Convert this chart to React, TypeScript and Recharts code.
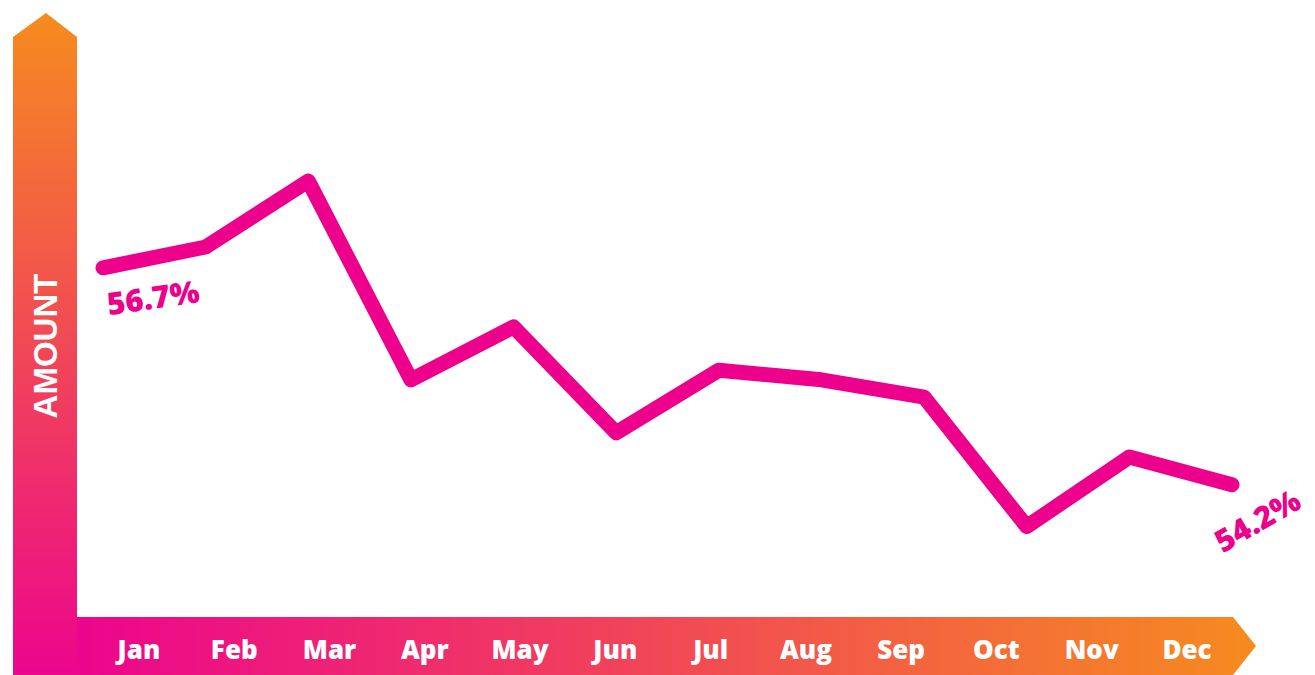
import React from "react";
import { LineChart, Line, XAxis, YAxis, LabelList } from "recharts";

const months = ["Jan", "Feb", "Mar", "Apr", "May", "Jun", "Jul", "Aug", "Sep", "Oct", "Nov", "Dec"];
const amounts = [56.7, 56.94, 57.7, 55.41, 56.02, 54.8, 55.52, 55.41, 55.21, 53.72, 54.52, 54.2];
const yDomain = [53, 58];

const data = months.map((m, i) => ({ month: m, amount: amounts[i] }));

const PINK = "#EC008C";
const ORANGE = "#F68B1F";

const MonthTick = (props: any) => {
  const { x, y, payload } = props;
  return (
    <text
      x={x}
      y={y}
      dy={32}
      textAnchor="middle"
      fill="#fff"
      fontFamily="'Open Sans', sans-serif"
      fontWeight={800}
      fontSize={26}
    >
      {payload.value}
    </text>
  );
};

const EndLabel = (props: any) => {
  const { x, y, value, index } = props;
  if (index !== 0 && index !== months.length - 1) return null;
  const first = index === 0;
  const cx = first ? x + 50 : x + 25;
  const cy = first ? y + 29 : y + 35;
  const angle = first ? -8 : -30;
  return (
    <text
      x={cx}
      y={cy}
      textAnchor="middle"
      dominantBaseline="central"
      transform={`rotate(${angle} ${cx} ${cy})`}
      fill={PINK}
      fontFamily="'Open Sans', sans-serif"
      fontWeight={800}
      fontSize={31}
    >
      {`${value}%`}
    </text>
  );
};

export default function App() {
  return (
    <div style={{ position: "absolute", left: 0, top: 0, width: 1315, height: 675, background: "#fff" }}>
      <svg width={1315} height={675} style={{ position: "absolute", left: 0, top: 0 }}>
        <defs>
          <linearGradient id="vgrad" x1="0" y1="0" x2="0" y2="1">
            <stop offset="0%" stopColor={ORANGE} />
            <stop offset="100%" stopColor="#EC058D" />
          </linearGradient>
          <linearGradient id="hgrad" x1="0" y1="0" x2="1" y2="0">
            <stop offset="0%" stopColor="#EC058D" />
            <stop offset="100%" stopColor={ORANGE} />
          </linearGradient>
        </defs>
        <polygon points="13,37 46,13 77,37 77,675 13,675" fill="url(#vgrad)" />
        <polygon points="77,617 1233,617 1256,646 1233,675 77,675" fill="url(#hgrad)" />
        <text
          x={45}
          y={346}
          textAnchor="middle"
          dominantBaseline="central"
          transform="rotate(-90 45 346)"
          fill="#fff"
          fontFamily="'Liberation Sans', Arial, sans-serif"
          fontWeight={700}
          fontSize={33}
        >
          AMOUNT
        </text>
      </svg>
      <div style={{ position: "absolute", left: 0, top: 0 }}>
        <LineChart width={1315} height={675} data={data} margin={{ top: 155, right: 83, bottom: 0, left: 103 }}>
          <XAxis dataKey="month" hide />
          <XAxis
            xAxisId="labels"
            dataKey="month"
            height={86}
            padding={{ left: 36, right: 45 }}
            axisLine={false}
            tickLine={false}
            interval={0}
            tick={<MonthTick />}
          />
          <YAxis hide domain={yDomain} />
          <Line
            dataKey="amount"
            type="linear"
            stroke={PINK}
            strokeWidth={15}
            strokeLinecap="round"
            strokeLinejoin="round"
            dot={false}
            isAnimationActive={false}
          >
            <LabelList dataKey="amount" content={<EndLabel />} />
          </Line>
        </LineChart>
      </div>
    </div>
  );
}
